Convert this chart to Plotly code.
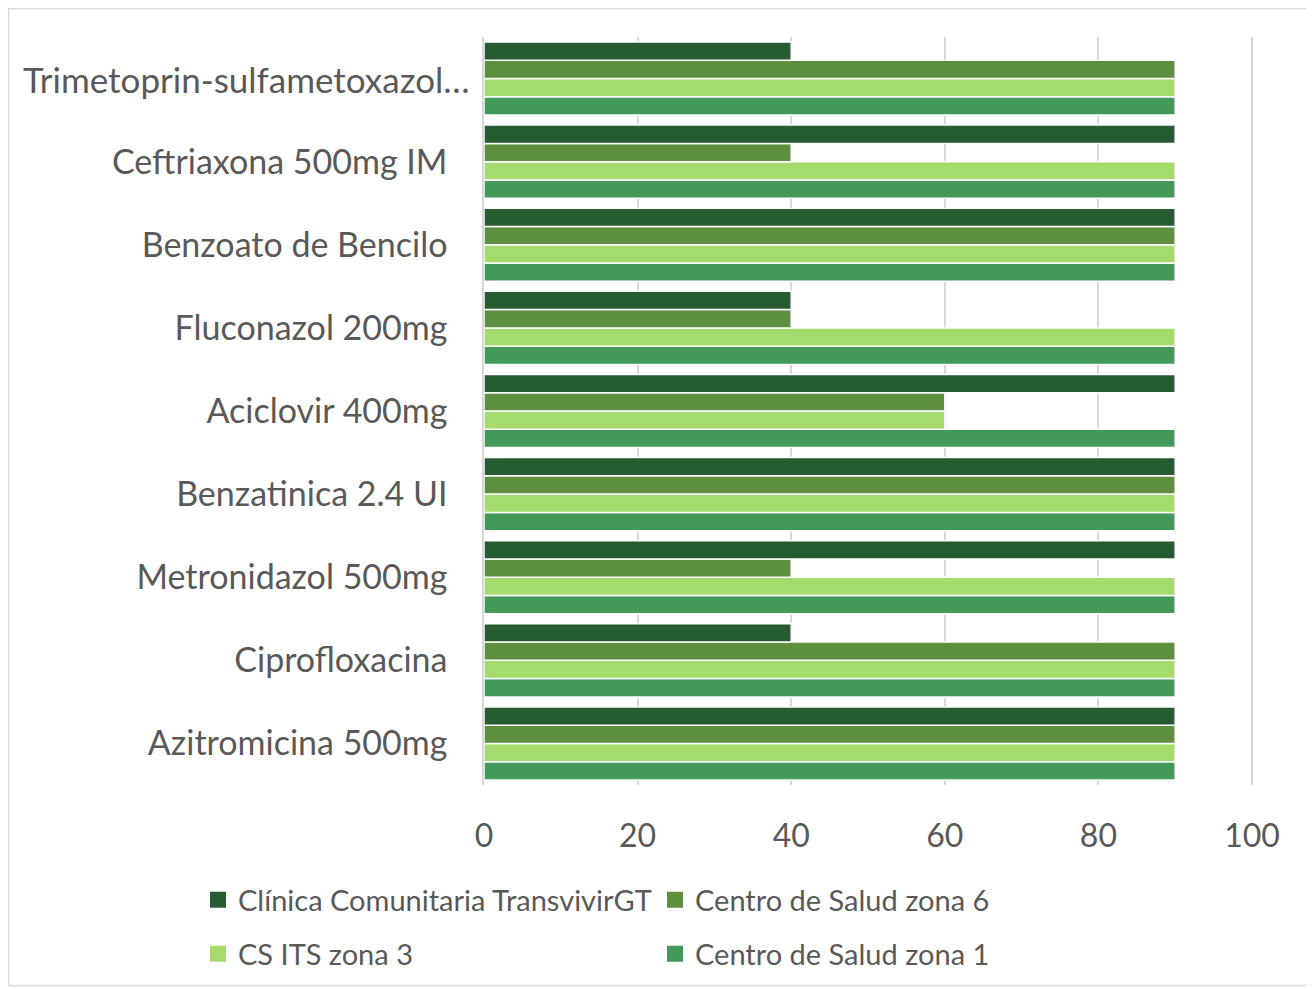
import plotly.graph_objects as go

categories = ["Azitromicina 500mg", "Ciprofloxacina", "Metronidazol 500mg",
              "Benzatinica 2.4 UI", "Aciclovir 400mg", "Fluconazol 200mg",
              "Benzoato de Bencilo", "Ceftriaxona 500mg IM",
              "Trimetoprin-sulfametoxazol…"]
clinica = [90, 40, 90, 90, 90, 40, 90, 90, 40]
zona6 = [90, 90, 40, 90, 60, 40, 90, 40, 90]
its3 = [90, 90, 90, 90, 60, 90, 90, 90, 90]
zona1 = [90, 90, 90, 90, 90, 90, 90, 90, 90]

series = [
    ("Centro de Salud zona 1", zona1, "#43995A", "legend2", 2),
    ("CS ITS zona 3", its3, "#A5DB6D", "legend2", 1),
    ("Centro de Salud zona 6", zona6, "#5E8F3E", "legend", 2),
    ("Clínica Comunitaria TransvivirGT", clinica, "#275B32", "legend", 1),
]

FONT = "Lato"
fig = go.Figure()
for name, vals, color, leg, rank in series:
    fig.add_trace(go.Bar(
        y=categories, x=vals, name=name, orientation="h",
        marker=dict(color=color, line=dict(color="white", width=1.5)),
        showlegend=False,
    ))
# legend entries with larger square swatches
for name, vals, color, leg, rank in series:
    fig.add_trace(go.Scatter(
        x=[None], y=[None], mode="markers", name=name,
        marker=dict(symbol="square", size=17, color=color),
        legend=leg, legendrank=rank, showlegend=True, hoverinfo="skip",
    ))

# page offset of 8px (body margin)
W, H = 1306, 981
L, R, T, B = 476, 60, 29, 204
pw, ph = W - L - R, H - T - B


def px(p):
    return (p - 8 - L) / pw


def py(p):
    return (H - B - (p - 8)) / ph


leg_common = dict(orientation="h", xanchor="left", yanchor="middle",
                  entrywidth=412, entrywidthmode="pixels",
                  font=dict(size=29, color="#595959", family=FONT),
                  bgcolor="rgba(0,0,0,0)")

# the long (truncated) label sits slightly further right, as in the original
ticktext = categories[:-1] + [""]

fig.update_layout(
    width=W, height=H,
    margin=dict(l=L, r=R, t=T, b=B, autoexpand=False),
    paper_bgcolor="white", plot_bgcolor="white",
    barmode="group", bargap=0.12, bargroupgap=0.0,
    font=dict(family=FONT, color="#595959"),
    xaxis=dict(range=[0, 100.26], dtick=20, tick0=0, showgrid=True,
               gridcolor="#D9D9D9", gridwidth=1.5, zeroline=False,
               showline=False, tickfont=dict(size=32, color="#595959"),
               ticklabelstandoff=29, fixedrange=True, automargin=False),
    yaxis=dict(showgrid=False, zeroline=False, showline=True,
               linecolor="#D9D9D9", linewidth=1.5,
               tickmode="array", tickvals=categories, ticktext=ticktext,
               tickfont=dict(size=34, color="#595959"),
               ticklabelstandoff=28, fixedrange=True, automargin=False),
    legend=dict(x=px(198), y=py(900), **leg_common),
    legend2=dict(x=px(198), y=py(954), **leg_common),
    annotations=[dict(text=categories[-1], xref="paper", yref="y",
                      x=px(472), y=categories[-1], xanchor="right",
                      yanchor="middle", showarrow=False,
                      font=dict(size=35, color="#595959", family=FONT))],
    shapes=[dict(type="rect", xref="paper", yref="paper",
                 x0=px(8.5), x1=px(1308.5), y0=py(985.5), y1=py(8.5),
                 line=dict(color="#D9D9D9", width=1.5), layer="below")],
)

fig.write_html("out.html")
